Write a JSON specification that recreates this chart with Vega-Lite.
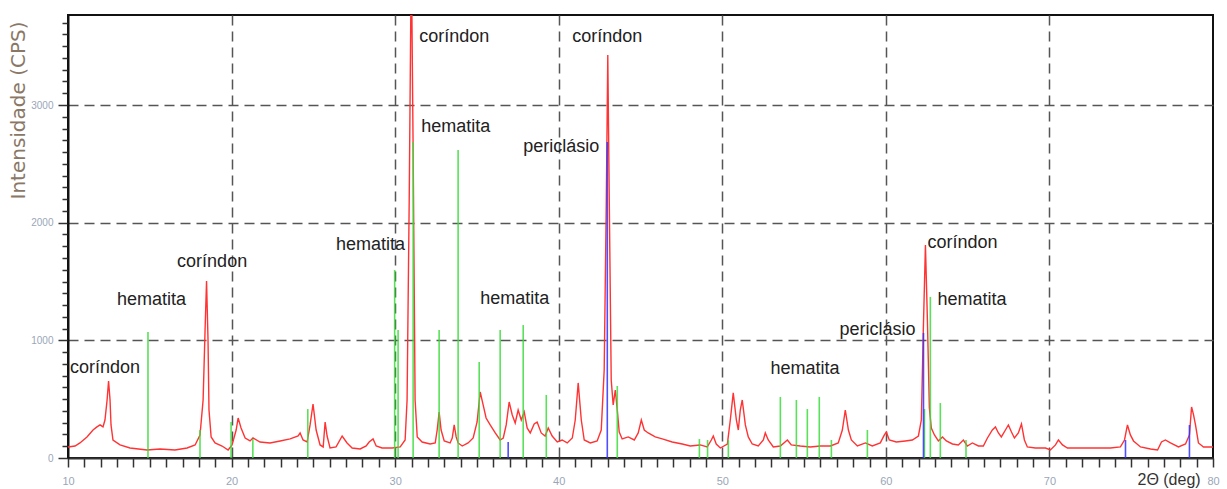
{
  "$schema": "https://vega.github.io/schema/vega-lite/v6.json",
  "width": 1145,
  "height": 443,
  "autosize": {"type": "none"},
  "padding": {"left": 68, "top": 15, "right": 14, "bottom": 31},
  "background": "white",
  "config": {"view": {"stroke": "#111", "strokeWidth": 2}},
  "datasets": {
    "pattern": [
      {"two_theta": 10.00, "cps": 94}, {"two_theta": 10.43, "cps": 102}, {"two_theta": 10.73, "cps": 128}, {"two_theta": 11.16, "cps": 179},
      {"two_theta": 11.53, "cps": 238}, {"two_theta": 11.77, "cps": 264}, {"two_theta": 11.96, "cps": 281}, {"two_theta": 12.14, "cps": 264},
      {"two_theta": 12.26, "cps": 323}, {"two_theta": 12.39, "cps": 493}, {"two_theta": 12.48, "cps": 655}, {"two_theta": 12.57, "cps": 493},
      {"two_theta": 12.63, "cps": 281}, {"two_theta": 12.75, "cps": 153}, {"two_theta": 13.18, "cps": 111}, {"two_theta": 13.79, "cps": 85},
      {"two_theta": 14.83, "cps": 68}, {"two_theta": 15.63, "cps": 77}, {"two_theta": 16.54, "cps": 68}, {"two_theta": 17.28, "cps": 85},
      {"two_theta": 17.77, "cps": 111}, {"two_theta": 18.07, "cps": 196}, {"two_theta": 18.26, "cps": 493}, {"two_theta": 18.38, "cps": 1088},
      {"two_theta": 18.47, "cps": 1505}, {"two_theta": 18.56, "cps": 1003}, {"two_theta": 18.62, "cps": 408}, {"two_theta": 18.75, "cps": 179},
      {"two_theta": 18.99, "cps": 128}, {"two_theta": 19.42, "cps": 102}, {"two_theta": 19.79, "cps": 68}, {"two_theta": 20.03, "cps": 111},
      {"two_theta": 20.28, "cps": 238}, {"two_theta": 20.40, "cps": 340}, {"two_theta": 20.58, "cps": 255}, {"two_theta": 20.83, "cps": 170},
      {"two_theta": 21.13, "cps": 145}, {"two_theta": 21.31, "cps": 170}, {"two_theta": 21.74, "cps": 136}, {"two_theta": 22.35, "cps": 128},
      {"two_theta": 22.97, "cps": 145}, {"two_theta": 23.58, "cps": 162}, {"two_theta": 24.07, "cps": 187}, {"two_theta": 24.19, "cps": 213},
      {"two_theta": 24.37, "cps": 153}, {"two_theta": 24.62, "cps": 136}, {"two_theta": 24.80, "cps": 281}, {"two_theta": 24.98, "cps": 459},
      {"two_theta": 25.17, "cps": 238}, {"two_theta": 25.41, "cps": 111}, {"two_theta": 25.60, "cps": 94}, {"two_theta": 25.72, "cps": 306},
      {"two_theta": 25.84, "cps": 187}, {"two_theta": 26.02, "cps": 85}, {"two_theta": 26.39, "cps": 94}, {"two_theta": 26.76, "cps": 187},
      {"two_theta": 27.06, "cps": 128}, {"two_theta": 27.37, "cps": 85}, {"two_theta": 27.86, "cps": 77}, {"two_theta": 28.23, "cps": 102},
      {"two_theta": 28.41, "cps": 136}, {"two_theta": 28.65, "cps": 162}, {"two_theta": 28.84, "cps": 102}, {"two_theta": 29.20, "cps": 85},
      {"two_theta": 29.82, "cps": 85}, {"two_theta": 30.31, "cps": 94}, {"two_theta": 30.61, "cps": 153}, {"two_theta": 30.73, "cps": 493},
      {"two_theta": 30.86, "cps": 2193}, {"two_theta": 30.99, "cps": 4300}, {"two_theta": 31.10, "cps": 2618}, {"two_theta": 31.22, "cps": 493},
      {"two_theta": 31.35, "cps": 179}, {"two_theta": 31.65, "cps": 136}, {"two_theta": 32.14, "cps": 119}, {"two_theta": 32.45, "cps": 128},
      {"two_theta": 32.57, "cps": 238}, {"two_theta": 32.69, "cps": 391}, {"two_theta": 32.81, "cps": 238}, {"two_theta": 33.00, "cps": 145},
      {"two_theta": 33.36, "cps": 128}, {"two_theta": 33.49, "cps": 170}, {"two_theta": 33.61, "cps": 281}, {"two_theta": 33.73, "cps": 179},
      {"two_theta": 33.85, "cps": 128}, {"two_theta": 34.10, "cps": 102}, {"two_theta": 34.46, "cps": 128}, {"two_theta": 34.77, "cps": 170},
      {"two_theta": 35.01, "cps": 306}, {"two_theta": 35.20, "cps": 561}, {"two_theta": 35.38, "cps": 451}, {"two_theta": 35.56, "cps": 340},
      {"two_theta": 35.81, "cps": 281}, {"two_theta": 36.12, "cps": 213}, {"two_theta": 36.42, "cps": 153}, {"two_theta": 36.61, "cps": 170},
      {"two_theta": 36.79, "cps": 281}, {"two_theta": 36.97, "cps": 476}, {"two_theta": 37.16, "cps": 366}, {"two_theta": 37.34, "cps": 298},
      {"two_theta": 37.52, "cps": 408}, {"two_theta": 37.71, "cps": 323}, {"two_theta": 37.89, "cps": 391}, {"two_theta": 38.07, "cps": 255},
      {"two_theta": 38.26, "cps": 213}, {"two_theta": 38.50, "cps": 289}, {"two_theta": 38.68, "cps": 306}, {"two_theta": 38.93, "cps": 213},
      {"two_theta": 39.17, "cps": 187}, {"two_theta": 39.36, "cps": 255}, {"two_theta": 39.60, "cps": 187}, {"two_theta": 39.91, "cps": 136},
      {"two_theta": 40.21, "cps": 153}, {"two_theta": 40.52, "cps": 128}, {"two_theta": 40.83, "cps": 170}, {"two_theta": 41.01, "cps": 323},
      {"two_theta": 41.19, "cps": 638}, {"two_theta": 41.38, "cps": 323}, {"two_theta": 41.56, "cps": 153}, {"two_theta": 41.93, "cps": 128},
      {"two_theta": 42.35, "cps": 145}, {"two_theta": 42.60, "cps": 238}, {"two_theta": 42.78, "cps": 748}, {"two_theta": 42.91, "cps": 2193},
      {"two_theta": 43.00, "cps": 3426}, {"two_theta": 43.09, "cps": 2193}, {"two_theta": 43.21, "cps": 663}, {"two_theta": 43.33, "cps": 451},
      {"two_theta": 43.46, "cps": 578}, {"two_theta": 43.58, "cps": 408}, {"two_theta": 43.70, "cps": 221}, {"two_theta": 43.88, "cps": 162},
      {"two_theta": 44.25, "cps": 179}, {"two_theta": 44.62, "cps": 153}, {"two_theta": 44.86, "cps": 213}, {"two_theta": 45.05, "cps": 323},
      {"two_theta": 45.23, "cps": 238}, {"two_theta": 45.47, "cps": 213}, {"two_theta": 45.90, "cps": 179}, {"two_theta": 46.33, "cps": 162},
      {"two_theta": 46.94, "cps": 136}, {"two_theta": 47.55, "cps": 119}, {"two_theta": 48.04, "cps": 102}, {"two_theta": 48.65, "cps": 111},
      {"two_theta": 49.08, "cps": 94}, {"two_theta": 49.33, "cps": 153}, {"two_theta": 49.45, "cps": 187}, {"two_theta": 49.63, "cps": 119},
      {"two_theta": 49.88, "cps": 85}, {"two_theta": 50.31, "cps": 119}, {"two_theta": 50.49, "cps": 323}, {"two_theta": 50.67, "cps": 553},
      {"two_theta": 50.86, "cps": 323}, {"two_theta": 50.98, "cps": 238}, {"two_theta": 51.10, "cps": 408}, {"two_theta": 51.22, "cps": 493},
      {"two_theta": 51.41, "cps": 281}, {"two_theta": 51.59, "cps": 179}, {"two_theta": 51.83, "cps": 119}, {"two_theta": 52.20, "cps": 102},
      {"two_theta": 52.51, "cps": 153}, {"two_theta": 52.63, "cps": 213}, {"two_theta": 52.81, "cps": 153}, {"two_theta": 53.12, "cps": 94},
      {"two_theta": 53.55, "cps": 102}, {"two_theta": 53.98, "cps": 153}, {"two_theta": 54.22, "cps": 111}, {"two_theta": 54.77, "cps": 102},
      {"two_theta": 55.38, "cps": 94}, {"two_theta": 55.99, "cps": 102}, {"two_theta": 56.61, "cps": 102}, {"two_theta": 57.09, "cps": 128},
      {"two_theta": 57.34, "cps": 238}, {"two_theta": 57.52, "cps": 408}, {"two_theta": 57.71, "cps": 238}, {"two_theta": 57.89, "cps": 153},
      {"two_theta": 58.26, "cps": 102}, {"two_theta": 58.75, "cps": 128}, {"two_theta": 59.17, "cps": 102}, {"two_theta": 59.66, "cps": 128},
      {"two_theta": 59.91, "cps": 196}, {"two_theta": 60.03, "cps": 221}, {"two_theta": 60.21, "cps": 153}, {"two_theta": 60.64, "cps": 136},
      {"two_theta": 61.19, "cps": 145}, {"two_theta": 61.62, "cps": 153}, {"two_theta": 61.99, "cps": 187}, {"two_theta": 62.17, "cps": 323},
      {"two_theta": 62.29, "cps": 1088}, {"two_theta": 62.42, "cps": 1810}, {"two_theta": 62.54, "cps": 1173}, {"two_theta": 62.66, "cps": 425},
      {"two_theta": 62.78, "cps": 255}, {"two_theta": 62.97, "cps": 196}, {"two_theta": 63.21, "cps": 145}, {"two_theta": 63.46, "cps": 179},
      {"two_theta": 63.70, "cps": 145}, {"two_theta": 64.07, "cps": 119}, {"two_theta": 64.43, "cps": 111}, {"two_theta": 64.74, "cps": 153},
      {"two_theta": 64.98, "cps": 102}, {"two_theta": 65.29, "cps": 128}, {"two_theta": 65.66, "cps": 102}, {"two_theta": 65.96, "cps": 102},
      {"two_theta": 66.21, "cps": 170}, {"two_theta": 66.51, "cps": 238}, {"two_theta": 66.70, "cps": 264}, {"two_theta": 66.88, "cps": 213},
      {"two_theta": 67.06, "cps": 179}, {"two_theta": 67.31, "cps": 238}, {"two_theta": 67.49, "cps": 281}, {"two_theta": 67.68, "cps": 221},
      {"two_theta": 67.86, "cps": 170}, {"two_theta": 68.10, "cps": 213}, {"two_theta": 68.29, "cps": 289}, {"two_theta": 68.47, "cps": 153},
      {"two_theta": 68.65, "cps": 94}, {"two_theta": 69.14, "cps": 85}, {"two_theta": 69.76, "cps": 85}, {"two_theta": 70.06, "cps": 68},
      {"two_theta": 70.37, "cps": 111}, {"two_theta": 70.55, "cps": 153}, {"two_theta": 70.80, "cps": 111}, {"two_theta": 71.10, "cps": 85},
      {"two_theta": 71.90, "cps": 85}, {"two_theta": 72.81, "cps": 85}, {"two_theta": 73.73, "cps": 85}, {"two_theta": 74.34, "cps": 94},
      {"two_theta": 74.59, "cps": 153}, {"two_theta": 74.77, "cps": 281}, {"two_theta": 74.95, "cps": 196}, {"two_theta": 75.14, "cps": 145},
      {"two_theta": 75.57, "cps": 94}, {"two_theta": 76.18, "cps": 77}, {"two_theta": 76.61, "cps": 68}, {"two_theta": 76.85, "cps": 136},
      {"two_theta": 77.09, "cps": 153}, {"two_theta": 77.40, "cps": 128}, {"two_theta": 77.89, "cps": 94}, {"two_theta": 78.32, "cps": 119},
      {"two_theta": 78.56, "cps": 196}, {"two_theta": 78.69, "cps": 434}, {"two_theta": 78.81, "cps": 366}, {"two_theta": 78.93, "cps": 281},
      {"two_theta": 79.11, "cps": 128}, {"two_theta": 79.42, "cps": 94}, {"two_theta": 80.00, "cps": 94}
    ],
    "sticks": [
      {"phase": "hematita", "two_theta": 14.89, "cps": 1070},
      {"phase": "hematita", "two_theta": 18.07, "cps": 238},
      {"phase": "hematita", "two_theta": 19.97, "cps": 306},
      {"phase": "hematita", "two_theta": 21.30, "cps": 161},
      {"phase": "hematita", "two_theta": 24.66, "cps": 416},
      {"phase": "hematita", "two_theta": 29.97, "cps": 1598},
      {"phase": "hematita", "two_theta": 30.18, "cps": 1088},
      {"phase": "hematita", "two_theta": 31.10, "cps": 2686},
      {"phase": "hematita", "two_theta": 32.69, "cps": 1088},
      {"phase": "hematita", "two_theta": 33.85, "cps": 2618},
      {"phase": "hematita", "two_theta": 35.14, "cps": 816},
      {"phase": "hematita", "two_theta": 36.42, "cps": 1088},
      {"phase": "hematita", "two_theta": 37.83, "cps": 1130},
      {"phase": "hematita", "two_theta": 39.24, "cps": 536},
      {"phase": "hematita", "two_theta": 43.58, "cps": 612},
      {"phase": "hematita", "two_theta": 48.60, "cps": 161},
      {"phase": "hematita", "two_theta": 49.10, "cps": 153},
      {"phase": "hematita", "two_theta": 50.37, "cps": 153},
      {"phase": "hematita", "two_theta": 53.55, "cps": 519},
      {"phase": "hematita", "two_theta": 54.53, "cps": 493},
      {"phase": "hematita", "two_theta": 55.20, "cps": 416},
      {"phase": "hematita", "two_theta": 55.93, "cps": 519},
      {"phase": "hematita", "two_theta": 56.67, "cps": 153},
      {"phase": "hematita", "two_theta": 58.87, "cps": 238},
      {"phase": "hematita", "two_theta": 62.36, "cps": 416},
      {"phase": "hematita", "two_theta": 62.72, "cps": 1369},
      {"phase": "hematita", "two_theta": 63.33, "cps": 467},
      {"phase": "hematita", "two_theta": 64.90, "cps": 153},
      {"phase": "periclásio", "two_theta": 36.91, "cps": 136},
      {"phase": "periclásio", "two_theta": 42.97, "cps": 2686},
      {"phase": "periclásio", "two_theta": 62.30, "cps": 1063},
      {"phase": "periclásio", "two_theta": 74.65, "cps": 153},
      {"phase": "periclásio", "two_theta": 78.56, "cps": 280}
    ],
    "labels": [
      {"label": "coríndon", "two_theta": 10.12, "cps": 765},
      {"label": "hematita", "two_theta": 13.00, "cps": 1342},
      {"label": "coríndon", "two_theta": 16.67, "cps": 1665},
      {"label": "hematita", "two_theta": 26.39, "cps": 1810},
      {"label": "coríndon", "two_theta": 31.47, "cps": 3577},
      {"label": "hematita", "two_theta": 31.59, "cps": 2812},
      {"label": "hematita", "two_theta": 35.20, "cps": 1351},
      {"label": "periclásio", "two_theta": 37.83, "cps": 2642},
      {"label": "coríndon", "two_theta": 40.83, "cps": 3577},
      {"label": "hematita", "two_theta": 52.94, "cps": 756},
      {"label": "periclásio", "two_theta": 57.16, "cps": 1087},
      {"label": "coríndon", "two_theta": 62.54, "cps": 1827},
      {"label": "hematita", "two_theta": 63.15, "cps": 1342}
    ]
  },
  "encoding": {
    "x": {
      "field": "two_theta", "type": "quantitative",
      "scale": {"domain": [10, 80], "nice": false, "zero": false},
      "axis": {
        "values": [10,11,12,13,14,15,16,17,18,19,20,21,22,23,24,25,26,27,28,29,30,31,32,33,34,35,36,37,38,39,40,41,42,43,44,45,46,47,48,49,50,51,52,53,54,55,56,57,58,59,60,61,62,63,64,65,66,67,68,69,70,71,72,73,74,75,76,77,78,79,80],
        "labelExpr": "datum.value % 10 === 0 ? datum.label : ''",
        "labelOverlap": false,
        "labelFlush": false,
        "labelFont": "Liberation Sans",
        "labelFontSize": 11,
        "labelColor": "#9aa6b8",
        "labelPadding": 8,
        "tickSize": 9,
        "tickColor": "#333",
        "tickWidth": 1.5,
        "domainColor": "#333",
        "domainWidth": 2,
        "grid": true,
        "gridColor": "#555",
        "gridWidth": 1.5,
        "gridDash": [10, 6],
        "gridOpacity": {"condition": {"test": "datum.value % 10 === 0 && datum.value > 10 && datum.value < 80", "value": 1}, "value": 0},
        "title": "2Θ (deg)",
        "titleX": 1069,
        "titleY": 13,
        "titleAlign": "left",
        "titleBaseline": "top",
        "titleFont": "Liberation Sans",
        "titleFontSize": 16,
        "titleFontWeight": "normal",
        "titleColor": "#333"
      }
    },
    "y": {
      "field": "cps", "type": "quantitative",
      "scale": {"domain": [0, 3765], "nice": false},
      "axis": {
        "values": [0,100,200,300,400,500,600,700,800,900,1000,1100,1200,1300,1400,1500,1600,1700,1800,1900,2000,2100,2200,2300,2400,2500,2600,2700,2800,2900,3000,3100,3200,3300,3400,3500,3600,3700],
        "labelExpr": "datum.value % 1000 === 0 ? datum.value + '' : ''",
        "labelOverlap": false,
        "labelFlush": false,
        "labelFont": "Liberation Sans",
        "labelFontSize": 10,
        "labelColor": "#9aa6b8",
        "labelPadding": 5,
        "tickSize": {"condition": {"test": "datum.value % 1000 === 0", "value": 10}, "value": 6},
        "tickColor": "#333",
        "tickWidth": 1.5,
        "domainColor": "#111",
        "domainWidth": 2,
        "grid": true,
        "gridColor": "#555",
        "gridWidth": 1.5,
        "gridDash": [10, 6],
        "gridOpacity": {"condition": {"test": "datum.value % 1000 === 0 && datum.value > 0", "value": 1}, "value": 0},
        "title": "Intensidade (CPS)",
        "titleAngle": 270,
        "titleX": -50,
        "titleY": 95,
        "titleAlign": "center",
        "titleBaseline": "middle",
        "titleFont": "DejaVu Sans",
        "titleFontSize": 20,
        "titleFontWeight": "normal",
        "titleColor": "#8a7766"
      }
    }
  },
  "layer": [
    {
      "data": {"name": "pattern"},
      "mark": {"type": "line", "color": "#ff3333", "strokeWidth": 1.4, "clip": true}
    },
    {
      "data": {"name": "sticks"},
      "mark": {"type": "rule", "strokeWidth": 1.6, "opacity": 0.85},
      "encoding": {
        "y2": {"datum": 0},
        "color": {"field": "phase", "type": "nominal", "scale": {"domain": ["hematita", "periclásio"], "range": ["#3cdc3c", "#3030ff"]}, "legend": null}
      }
    },
    {
      "data": {"name": "labels"},
      "mark": {"type": "text", "align": "left", "baseline": "middle", "font": "Liberation Sans", "fontSize": 18, "color": "#222"},
      "encoding": {
        "text": {"field": "label"}
      }
    }
  ]
}
